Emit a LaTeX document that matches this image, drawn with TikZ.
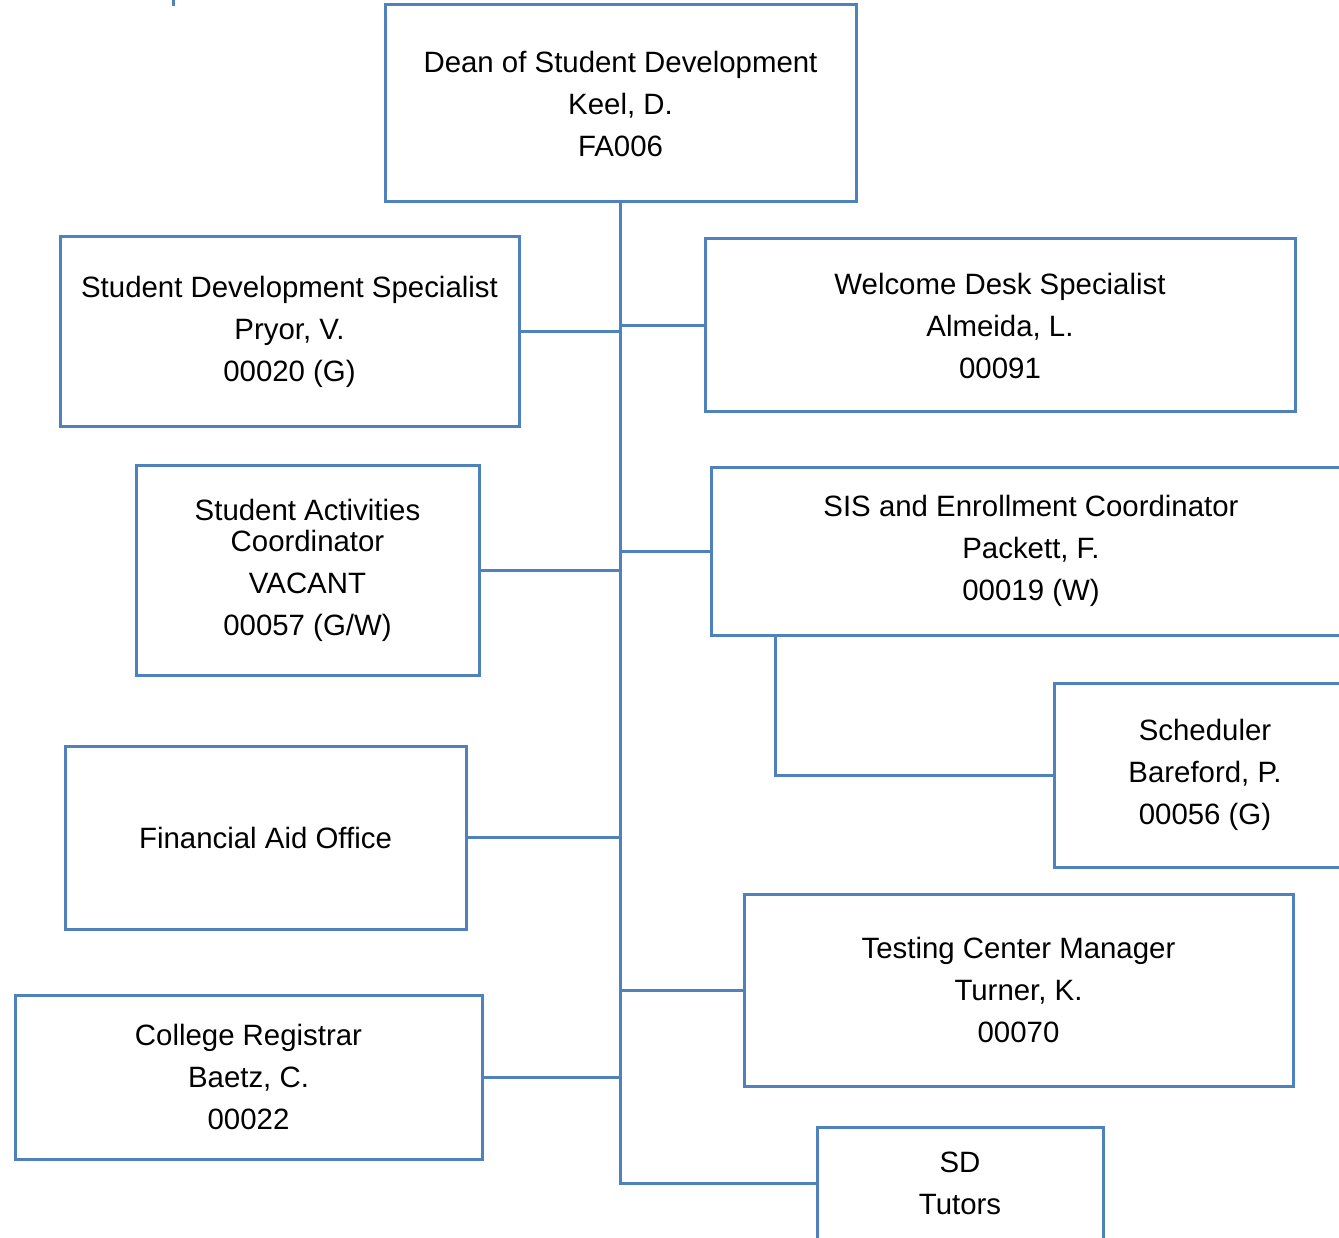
\documentclass[tikz,border=0pt]{standalone}
\usepackage{fontspec}
\setmainfont{Liberation Sans}
\definecolor{lineblue}{HTML}{4F81BD}
\begin{document}
\begin{tikzpicture}[x=1pt,y=-1pt,
  box/.style={draw=lineblue,line width=3pt,fill=white,inner sep=0pt,align=center,
    font=\fontsize{29.4}{30.5}\selectfont,text=black},
  link/.style={draw=lineblue,line width=3pt}]
\clip (0,0) rectangle (1339,1238);
\fill[white] (0,0) rectangle (1339,1238);
\node[box,minimum width=471pt,minimum height=197pt] (dean) at (620.5,103.5) {Dean of Student Development\\[11.5pt]Keel, D.\\[11.5pt]FA006};
\node[box,minimum width=459pt,minimum height=190pt] (sds) at (289.5,332) {Student Development Specialist\\[11.5pt]Pryor, V.\\[11.5pt]00020 (G)};
\node[box,minimum width=590pt,minimum height=173pt] (wds) at (1000,325.5) {Welcome Desk Specialist\\[11.5pt]Almeida, L.\\[11.5pt]00091};
\node[box,minimum width=343pt,minimum height=210pt] (sac) at (307.5,570.5) {Student Activities\\Coordinator\\[11.5pt]VACANT\\[11.5pt]00057 (G/W)};
\node[box,minimum width=640pt,minimum height=168pt] (sis) at (1031,551) {SIS and Enrollment Coordinator\\[11.5pt]Packett, F.\\[11.5pt]00019 (W)};
\node[box,minimum width=302pt,minimum height=184pt] (sch) at (1205,775) {Scheduler\\[11.5pt]Bareford, P.\\[11.5pt]00056 (G)};
\node[box,minimum width=401pt,minimum height=183pt] (fao) at (265.5,837.5) {Financial Aid Office};
\node[box,minimum width=467pt,minimum height=164pt] (reg) at (248.5,1077) {College Registrar\\[11.5pt]Baetz, C.\\[11.5pt]00022};
\node[box,minimum width=549pt,minimum height=192pt] (tcm) at (1018.5,990) {Testing Center Manager\\[11.5pt]Turner, K.\\[11.5pt]00070};
\node[box,minimum width=286pt,minimum height=112pt] (sdt) at (960,1183) {SD\\[11.5pt]Tutors};
\coordinate (sisb) at (775,635);
\coordinate (tick) at (173,0);
\coordinate (tickend) at (173,6);
\draw[link] (dean.south) |- (sdt.west);
\draw[link] (sds.east) -- (sds.east -| dean.south);
\draw[link] (wds.west) -- (wds.west -| dean.south);
\draw[link] (sac.east) -- (sac.east -| dean.south);
\draw[link] (sis.west) -- (sis.west -| dean.south);
\draw[link] (fao.east) -- (fao.east -| dean.south);
\draw[link] (tcm.west) -- (tcm.west -| dean.south);
\draw[link] (reg.east) -- (reg.east -| dean.south);
\draw[link] (sisb) |- (sch.west);
\draw[link] (tick) -- (tickend);
\end{tikzpicture}
\end{document}
